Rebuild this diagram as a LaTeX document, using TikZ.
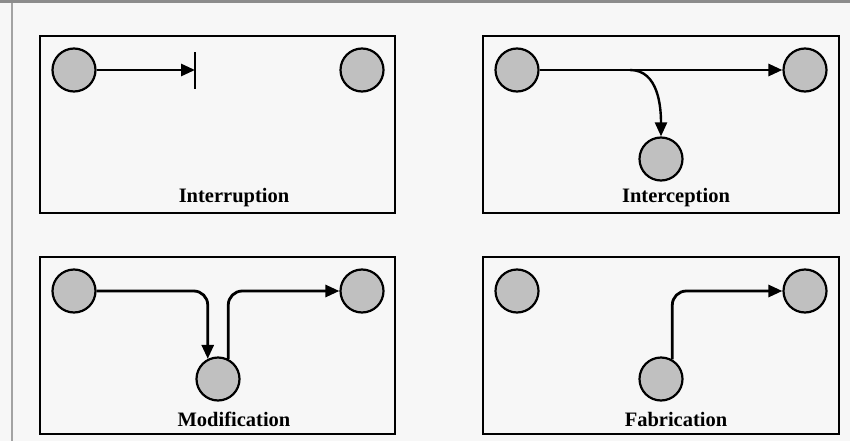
\documentclass[tikz,border=0pt]{standalone}
\usepackage{fontspec}
\setmainfont{Liberation Serif}
\usetikzlibrary{arrows.meta}
\definecolor{pagebg}{HTML}{F7F7F7}
\definecolor{framegray}{HTML}{8C8C8C}
\definecolor{hostgray}{HTML}{C0C0C0}
\begin{document}
\begin{tikzpicture}[x=1pt,y=-1pt,
    host/.style={draw,circle,fill=hostgray,line width=2.2pt,minimum size=43pt,inner sep=0pt},
    panel/.style={draw,line width=2.4pt},
    flow/.style={line width=2.8pt,-{Triangle[length=14pt,width=12pt]}},
    caption/.style={font=\fontsize{20.5}{24}\selectfont\bfseries}]
    \useasboundingbox[fill=pagebg] (0,0) rectangle (850,441);
    %% screenshot frame
    \draw[framegray,line width=3pt] (0,1.5) -- (850,1.5);
    \draw[framegray!80,line width=2pt] (11.5,3) -- (11.5,441);
    %% Interruption
    \draw[panel] (40,36) rectangle (395,213);
    \node[host] (src1) at (74,70) {};
    \node[host] (dst1) at (362,70) {};
    \coordinate (cut1) at (195,70);
    \draw[flow] (src1.east) -- (cut1);
    \draw[line width=2.8pt] ([yshift=-19pt]cut1) -- ([yshift=18pt]cut1);
    \node[caption] (lab1) at (234,198) {Interruption};
    %% Interception
    \draw[panel] (483,36) rectangle (839,213);
    \node[host] (src2) at (517,70) {};
    \node[host] (dst2) at (805,70) {};
    \node[host] (spy2) at (661,159) {};
    \coordinate (br2) at (630,70);
    \draw[flow] (src2.east) -- (dst2.west);
    \draw[flow,line width=2.4pt] (br2) to[out=0,in=90] (spy2.north);
    \node[caption] (lab2) at (676,198) {Interception};
    %% Modification
    \draw[panel] (40,257) rectangle (395,434);
    \node[host] (src3) at (74,291) {};
    \node[host] (dst3) at (362,291) {};
    \node[host] (mod3) at (218,379) {};
    \draw[flow,rounded corners=14pt] (src3.east) -| (mod3.117);
    \draw[flow,rounded corners=14pt] (mod3.63) |- (dst3.west);
    \node[caption] (lab3) at (234,419) {Modification};
    %% Fabrication
    \draw[panel] (483,257) rectangle (839,434);
    \node[host] (src4) at (517,291) {};
    \node[host] (dst4) at (805,291) {};
    \node[host] (fab4) at (661,379) {};
    \draw[flow,rounded corners=14pt] (fab4.60) |- (dst4.west);
    \node[caption] (lab4) at (676,419) {Fabrication};
\end{tikzpicture}
\end{document}
